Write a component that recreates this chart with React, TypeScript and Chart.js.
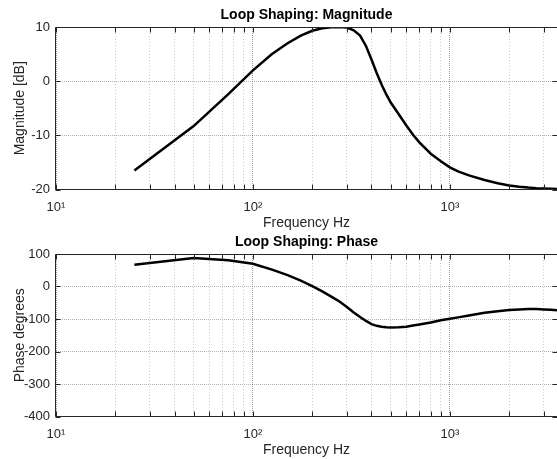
import React, { useEffect, useRef } from 'react';
import { Chart, registerables } from 'chart.js';

Chart.register(...registerables);

const FONT = "'Liberation Sans', Arial, Helvetica, sans-serif";
Chart.defaults.font.family = FONT;

// Frequencies (Hz)
const freqs = [25, 50, 75, 100, 125, 150, 175, 200, 225, 250, 275, 300, 325, 350, 375, 400, 425, 450, 475, 500, 550, 600, 650, 700, 800, 900, 1000, 1100, 1250, 1500, 1750, 2000, 2250, 2500, 2750, 3000, 3250, 3500];

// Magnitude (dB)
const magnitude = [-16.5, -8.3, -2.4, 2.0, 5.0, 7.0, 8.4, 9.3, 9.75, 9.95, 10.0, 9.9, 9.4, 8.4, 6.5, 4.0, 1.5, -0.6, -2.4, -3.9, -6.1, -8.15, -9.9, -11.3, -13.4, -14.8, -15.9, -16.65, -17.4, -18.25, -18.85, -19.25, -19.5, -19.65, -19.75, -19.8, -19.85, -19.9];

// Phase (degrees)
const phase = [67, 88, 81, 70, 52, 35, 18, 1, -15, -31, -46, -63, -80, -94, -106, -116, -121, -124, -125.3, -126, -125.5, -124, -120, -117, -111, -104, -99, -95, -89, -81, -76, -72, -70.5, -69.5, -69.5, -70.5, -71.5, -73];

// Axis ticks
const xTickValues = [10, 20, 30, 40, 50, 60, 70, 80, 90, 100, 200, 300, 400, 500, 600, 700, 800, 900, 1000, 2000, 3000];
const xTickLabels: Record<number, string> = { 10: '10¹', 100: '10²', 1000: '10³' };
const X_MIN = 10;
const X_MAX = 3500;

const magTicks = { min: -20, max: 10, step: 10 };
const phaseTicks = { min: -400, max: 100, step: 100 };

const TEXT = '#262626';

const isDecade = (v: number) => Math.abs(Math.log10(v) - Math.round(Math.log10(v))) < 1e-9;

const boxPlugin = {
  id: 'matlabBox',
  afterDatasetsDraw(chart: any) {
    const { ctx, chartArea: a, scales } = chart;
    const xs = scales.x;
    const ys = scales.y;
    const L = Math.floor(a.left) - 0.5;
    const R = Math.floor(a.right) + 0.5;
    const T = Math.floor(a.top) + 0.5;
    const B = Math.floor(a.bottom) + 0.5;
    ctx.save();
    ctx.strokeStyle = TEXT;
    ctx.lineWidth = 1;
    ctx.setLineDash([]);
    ctx.beginPath();
    ctx.rect(L, T, R - L, B - T);
    ctx.stroke();
    const len = 5;
    ctx.beginPath();
    for (const t of xs.ticks) {
      const px = Math.round(xs.getPixelForValue(t.value)) + 0.5;
      ctx.moveTo(px, B);
      ctx.lineTo(px, B - len);
      ctx.moveTo(px, T);
      ctx.lineTo(px, T + len);
    }
    for (const t of ys.ticks) {
      const py = Math.round(ys.getPixelForValue(t.value)) + 0.5;
      ctx.moveTo(L, py);
      ctx.lineTo(L + len, py);
      ctx.moveTo(R, py);
      ctx.lineTo(R - len, py);
    }
    ctx.stroke();
    ctx.restore();
  },
};

function makeConfig(title: string, yTitle: string, values: number[], yt: { min: number; max: number; step: number }) {
  return {
    type: 'line' as const,
    data: {
      datasets: [
        {
          data: freqs.map((f, i) => ({ x: f, y: values[i] })),
          borderColor: '#000',
          borderWidth: 2.5,
          pointRadius: 0,
          tension: 0,
          fill: false,
        },
      ],
    },
    options: {
      responsive: false,
      animation: false as const,
      events: [],
      layout: { padding: 0 },
      plugins: {
        legend: { display: false },
        tooltip: { enabled: false },
        title: {
          display: true,
          text: title,
          color: '#000',
          fullSize: false,
          font: { family: FONT, size: 14, weight: 'bold' as const, lineHeight: 1.2 },
          padding: { top: 7, bottom: 3.2 },
        },
      },
      scales: {
        x: {
          type: 'logarithmic' as const,
          min: X_MIN,
          max: X_MAX,
          afterBuildTicks: (scale: any) => {
            scale.ticks = xTickValues.map((v) => ({ value: v }));
          },
          afterFit: (scale: any) => {
            scale.height = 42.5;
          },
          ticks: {
            autoSkip: false,
            maxRotation: 0,
            minRotation: 0,
            padding: 10,
            color: TEXT,
            font: { family: FONT, size: 13 },
            callback: (v: any) => xTickLabels[Number(v)] ?? '',
          },
          grid: {
            drawTicks: false,
            lineWidth: 1,
            color: (c: any) => {
              const v = c.tick ? c.tick.value : 0;
              return isDecade(v) ? 'rgba(0,0,0,0.38)' : 'rgba(0,0,0,0.2)';
            },
          },
          border: {
            display: false,
            dash: (c: any) => {
              const v = c.tick ? c.tick.value : 0;
              return isDecade(v) ? [1, 1] : [1, 2];
            },
          },
          title: {
            display: true,
            text: 'Frequency Hz',
            color: TEXT,
            font: { family: FONT, size: 14, lineHeight: 1.2 },
            padding: { top: 0, bottom: 0.6 },
          },
        },
        y: {
          type: 'linear' as const,
          min: yt.min,
          max: yt.max,
          afterFit: (scale: any) => {
            scale.width = 56;
          },
          ticks: {
            stepSize: yt.step,
            padding: 6,
            color: TEXT,
            font: { family: FONT, size: 13 },
          },
          grid: {
            drawTicks: false,
            lineWidth: 1,
            color: 'rgba(0,0,0,0.3)',
          },
          border: { display: false, dash: [1, 1] },
          title: {
            display: true,
            text: yTitle,
            color: TEXT,
            font: { family: FONT, size: 14, lineHeight: 1.2 },
            padding: { top: 11.6, bottom: 0 },
          },
        },
      },
    },
    plugins: [boxPlugin],
  };
}

function Plot(props: { top: number; title: string; yTitle: string; values: number[]; yt: { min: number; max: number; step: number } }) {
  const ref = useRef<HTMLCanvasElement | null>(null);
  useEffect(() => {
    if (!ref.current) return;
    const chart = new Chart(ref.current, makeConfig(props.title, props.yTitle, props.values, props.yt) as any);
    return () => chart.destroy();
  }, []);
  return (
    <canvas
      ref={ref}
      width={557}
      height={232}
      style={{ position: 'absolute', left: 0, top: props.top, width: 557, height: 232 }}
    />
  );
}

export default function App() {
  return (
    <div style={{ position: 'fixed', left: 0, top: 0, width: 557, height: 459, background: '#fff', overflow: 'hidden' }}>
      <Plot top={0} title="Loop Shaping: Magnitude" yTitle="Magnitude [dB]" values={magnitude} yt={magTicks} />
      <Plot top={227} title="Loop Shaping: Phase" yTitle="Phase degrees" values={phase} yt={phaseTicks} />
    </div>
  );
}
